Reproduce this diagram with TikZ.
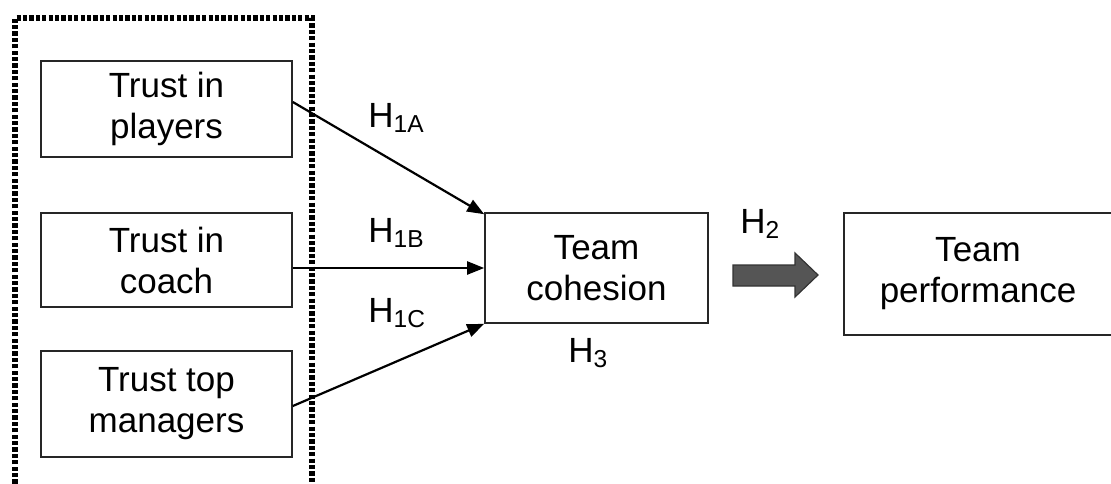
\documentclass[tikz,border=0pt]{standalone}
\usepackage{fontspec}
\setmainfont{Liberation Sans}
\usetikzlibrary{arrows.meta}
\definecolor{blockgray}{HTML}{555555}
\tikzset{
  box/.style={draw=black!85, line width=0.8pt, inner sep=0pt, align=center,
    font=\fontsize{17.5}{20.5}\selectfont},
  hyp/.style={anchor=base west, inner sep=0pt, font=\fontsize{17.5}{20}\selectfont},
  link/.style={draw=black, line width=1.1pt, -{Triangle[length=8.5pt,width=6.5pt]}},
  frame/.style={draw=black, line width=3pt, dash pattern=on 2.1pt off 1.1pt}
}
\begin{document}
\begin{tikzpicture}[x=0.5pt,y=-0.5pt]
\useasboundingbox (0,0) rectangle (1111,483);
% dotted frame (open at the bottom)
\coordinate (fbl) at (15,490);
\coordinate (ftl) at (15,18);
\coordinate (ftr) at (312,18);
\coordinate (fbr) at (312,490);
\draw[frame] (fbl) -- (ftl) -- (ftr) -- (fbr);
% boxes
\node[box, fill=white, minimum width=125.5pt, minimum height=48pt] (p1) at (166.5,109) {Trust in\\players};
\node[box, fill=white, minimum width=125.5pt, minimum height=47pt] (p2) at (166.5,260) {Trust in\\coach};
\node[box, fill=white, minimum width=125.5pt, minimum height=53pt] (p3) at (166.5,404) {Trust top\\managers};
\node[box, minimum width=111.5pt, minimum height=55pt] (coh) at (596.5,268) {Team\\cohesion};
\node[box, minimum width=134pt, minimum height=61pt] (perf) at (978,274) {Team\\performance};
% connectors
\draw[link] ([yshift=3.5pt]p1.east) -- ([yshift=-1pt]coh.north west);
\draw[link] (coh.west -| p2.east) -- (coh.west);
\draw[link] ([yshift=-1pt]p3.east) -- (coh.south west);
% block arrow H2
\coordinate (ba) at (733,265);
\draw[fill=blockgray, draw=black!80, line width=0.6pt]
  (ba) -- ++(62,0) -- ++(0,-12) -- ++(23,22) -- ++(-23,22) -- ++(0,-11) -- ++(-62,0) -- cycle;
% labels
\node[hyp] (h1a) at (368,127) {H\textsubscript{1A}};
\node[hyp] (h1b) at (368,242) {H\textsubscript{1B}};
\node[hyp] (h1c) at (368,322) {H\textsubscript{1C}};
\node[hyp] (h3) at (568,362) {H\textsubscript{3}};
\node[hyp] (h2) at (740,233) {H\textsubscript{2}};
\end{tikzpicture}
\end{document}
